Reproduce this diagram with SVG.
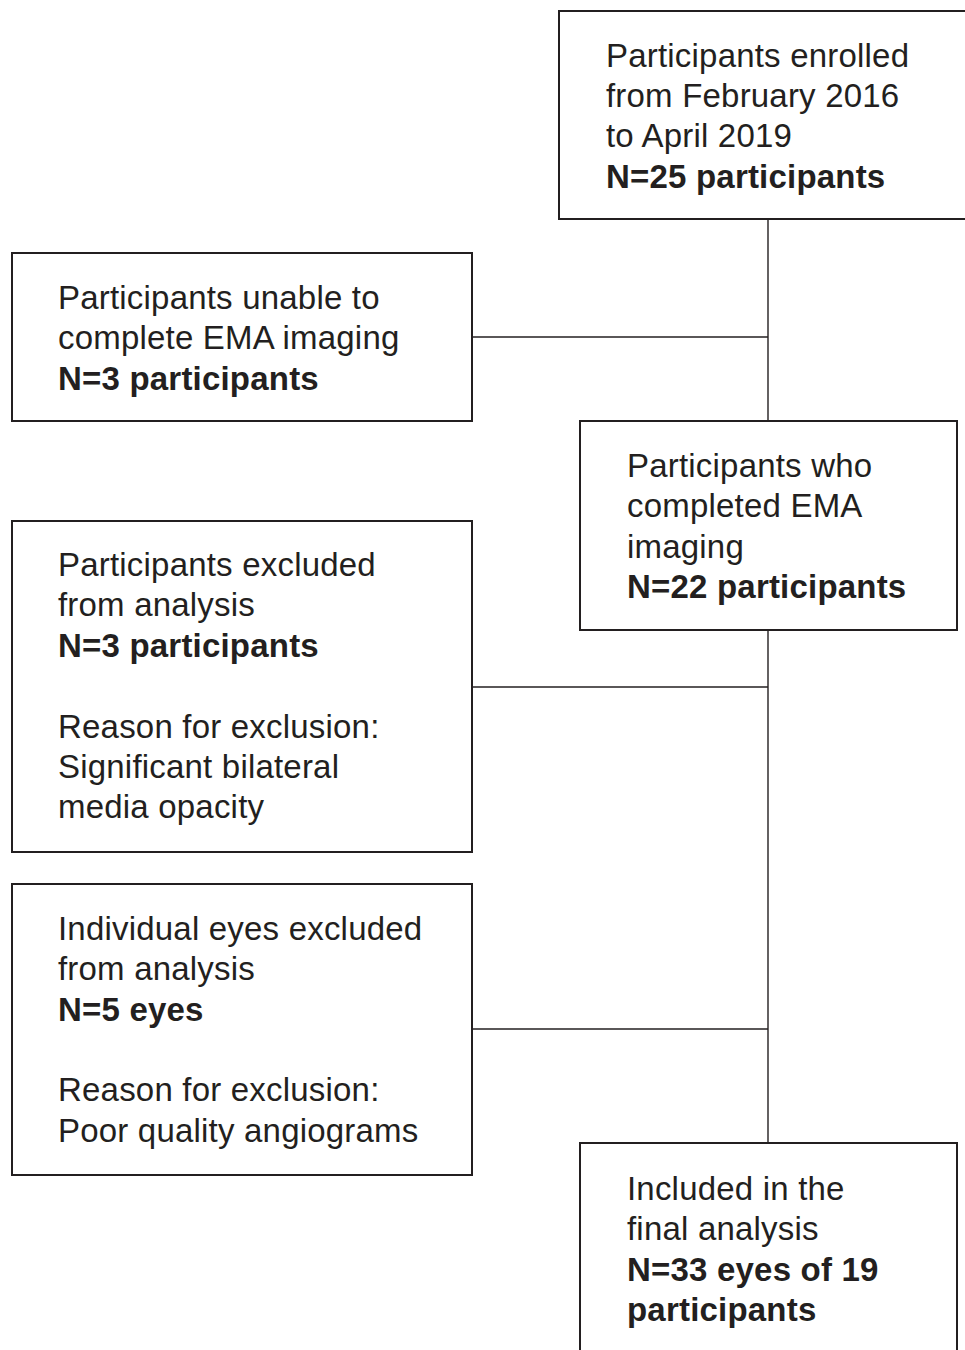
<svg xmlns="http://www.w3.org/2000/svg" width="965" height="1350" viewBox="0 0 965 1350">
<style>
.box{fill:#fff;stroke:#231f20;stroke-width:2}
.t{font-family:"Liberation Sans",Arial,sans-serif;font-size:33px;fill:#231f20;letter-spacing:0.2px}
.b{font-weight:bold}
.c{stroke:#231f20;stroke-width:1.4;fill:none}
</style>
<rect width="965" height="1350" fill="#fff"/>
<g id="connectors">
<line class="c" x1="768" y1="219" x2="768" y2="421"/>
<line class="c" x1="768" y1="630" x2="768" y2="1143"/>
<line class="c" x1="472" y1="337" x2="768" y2="337"/>
<line class="c" x1="472" y1="687" x2="768" y2="687"/>
<line class="c" x1="472" y1="1029" x2="768" y2="1029"/>
</g>
<g id="enrolled">
<rect class="box" x="559" y="11" width="420" height="208"/>
<text class="t" x="606" y="67">Participants enrolled</text>
<text class="t" x="606" y="107">from February 2016</text>
<text class="t" x="606" y="147">to April 2019</text>
<text class="t b" x="606" y="188">N=25 participants</text>
</g>
<g id="unable">
<rect class="box" x="12" y="253" width="460" height="168"/>
<text class="t" x="58" y="309">Participants unable to</text>
<text class="t" x="58" y="349">complete EMA imaging</text>
<text class="t b" x="58" y="390">N=3 participants</text>
</g>
<g id="completed">
<rect class="box" x="580" y="421" width="377" height="209"/>
<text class="t" x="627" y="477">Participants who</text>
<text class="t" x="627" y="517">completed EMA</text>
<text class="t" x="627" y="558">imaging</text>
<text class="t b" x="627" y="598">N=22 participants</text>
</g>
<g id="excluded">
<rect class="box" x="12" y="521" width="460" height="331"/>
<text class="t" x="58" y="576">Participants excluded</text>
<text class="t" x="58" y="616">from analysis</text>
<text class="t b" x="58" y="657">N=3 participants</text>
<text class="t" x="58" y="738">Reason for exclusion:</text>
<text class="t" x="58" y="778">Significant bilateral</text>
<text class="t" x="58" y="818">media opacity</text>
</g>
<g id="eyes">
<rect class="box" x="12" y="884" width="460" height="291"/>
<text class="t" x="58" y="940">Individual eyes excluded</text>
<text class="t" x="58" y="980">from analysis</text>
<text class="t b" x="58" y="1021">N=5 eyes</text>
<text class="t" x="58" y="1101">Reason for exclusion:</text>
<text class="t" x="58" y="1142">Poor quality angiograms</text>
</g>
<g id="final">
<rect class="box" x="580" y="1143" width="377" height="230"/>
<text class="t" x="627" y="1200">Included in the</text>
<text class="t" x="627" y="1240">final analysis</text>
<text class="t b" x="627" y="1281">N=33 eyes of 19</text>
<text class="t b" x="627" y="1321">participants</text>
</g>
</svg>
